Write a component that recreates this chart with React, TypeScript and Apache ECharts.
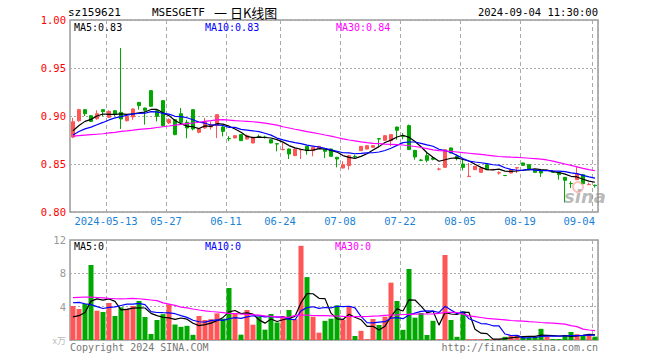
import React, { useEffect, useRef } from "react";
import * as echarts from "echarts";

// ---------- data ----------
const DATES = [
  "2024-04-30",
  "2024-05-06", "2024-05-07", "2024-05-08", "2024-05-09", "2024-05-10",
  "2024-05-13", "2024-05-14", "2024-05-15", "2024-05-16", "2024-05-17",
  "2024-05-20", "2024-05-21", "2024-05-22", "2024-05-23", "2024-05-24",
  "2024-05-27", "2024-05-28", "2024-05-29", "2024-05-30", "2024-05-31",
  "2024-06-03", "2024-06-04", "2024-06-05", "2024-06-06", "2024-06-07",
  "2024-06-11", "2024-06-12", "2024-06-13", "2024-06-14",
  "2024-06-17", "2024-06-18", "2024-06-19", "2024-06-20", "2024-06-21",
  "2024-06-24", "2024-06-25", "2024-06-26", "2024-06-27", "2024-06-28",
  "2024-07-01", "2024-07-02", "2024-07-03", "2024-07-04", "2024-07-05",
  "2024-07-08", "2024-07-09", "2024-07-10", "2024-07-11", "2024-07-12",
  "2024-07-15", "2024-07-16", "2024-07-17", "2024-07-18", "2024-07-19",
  "2024-07-22", "2024-07-23", "2024-07-24", "2024-07-25", "2024-07-26",
  "2024-07-29", "2024-07-30", "2024-07-31", "2024-08-01", "2024-08-02",
  "2024-08-05", "2024-08-06", "2024-08-07", "2024-08-08", "2024-08-09",
  "2024-08-12", "2024-08-13", "2024-08-14", "2024-08-15", "2024-08-16",
  "2024-08-19", "2024-08-20", "2024-08-21", "2024-08-22", "2024-08-23",
  "2024-08-26", "2024-08-27", "2024-08-28", "2024-08-29", "2024-08-30",
  "2024-09-02", "2024-09-03", "2024-09-04",
];

// indices of the dates that get a label and a vertical grid line
const LABEL_INDEX = [6, 16, 26, 35, 45, 55, 65, 75, 87];

const OPEN = [
  0.878, 0.895, 0.9066, 0.9003, 0.8972, 0.9066, 0.8986, 0.9055, 0.9038, 0.8951,
  0.899, 0.9142, 0.9083, 0.9264, 0.9055, 0.916, 0.8927, 0.8962, 0.9024, 0.8934,
  0.9066, 0.883, 0.8875, 0.8885, 0.89, 0.8885, 0.8766, 0.8771, 0.8806, 0.876,
  0.8719, 0.8788, 0.878, 0.8753, 0.8712, 0.8649, 0.8656, 0.8587, 0.8646, 0.8684,
  0.8639, 0.8663, 0.8649, 0.8656, 0.857, 0.8458, 0.8483, 0.858, 0.8639, 0.8656,
  0.8674, 0.8764, 0.8747, 0.8743, 0.8885, 0.8792, 0.89, 0.8642, 0.8541, 0.8587,
  0.8563, 0.8446, 0.8465, 0.8667, 0.858, 0.85, 0.8369, 0.8441, 0.8413, 0.8493,
  0.8441, 0.8406, 0.8381, 0.8406, 0.8458, 0.8511, 0.8493, 0.8434, 0.8424, 0.8431,
  0.8424, 0.8413, 0.8361, 0.8297, 0.8337, 0.8389, 0.8285, 0.8278,
];
const CLOSE = [
  0.894, 0.9066, 0.9024, 0.8944, 0.9024, 0.9045, 0.9049, 0.9024, 0.8969, 0.8997,
  0.9073, 0.9108, 0.9059, 0.9101, 0.8997, 0.89, 0.8962, 0.8806, 0.8934, 0.8875,
  0.8865, 0.8865, 0.8944, 0.891, 0.9014, 0.884, 0.8763, 0.8795, 0.8743, 0.8795,
  0.8778, 0.8785, 0.8778, 0.8719, 0.8708, 0.8652, 0.8604, 0.8656, 0.8652, 0.8639,
  0.8674, 0.8684, 0.8632, 0.858, 0.8552, 0.8493, 0.8587, 0.8577, 0.8684, 0.8691,
  0.8691, 0.876, 0.8795, 0.8806, 0.8851, 0.8788, 0.865, 0.8573, 0.8538, 0.8538,
  0.8549, 0.8448, 0.8649, 0.8615, 0.8556, 0.8465, 0.8372, 0.8476, 0.8458, 0.8441,
  0.8444, 0.8409, 0.8379, 0.8441, 0.8462, 0.8486, 0.8441, 0.8413, 0.8406, 0.8434,
  0.8413, 0.8389, 0.833, 0.8295, 0.8396, 0.8295, 0.8288, 0.8274,
];
const LOW = [
  0.877, 0.894, 0.9, 0.8938, 0.896, 0.9, 0.898, 0.9, 0.8865, 0.8944,
  0.896, 0.9066, 0.891, 0.9097, 0.8944, 0.889, 0.8917, 0.88, 0.893, 0.8768,
  0.885, 0.882, 0.8868, 0.8858, 0.877, 0.8788, 0.8737, 0.8768, 0.874, 0.8755,
  0.8715, 0.877, 0.8764, 0.8715, 0.8632, 0.8645, 0.8552, 0.8583, 0.8552, 0.8597,
  0.858, 0.866, 0.8563, 0.8576, 0.8465, 0.8455, 0.8441, 0.8563, 0.8635, 0.8652,
  0.867, 0.8684, 0.8743, 0.8684, 0.8753, 0.8757, 0.8646, 0.8545, 0.853, 0.8517,
  0.8538, 0.8434, 0.8461, 0.8611, 0.8538, 0.8434, 0.8365, 0.8437, 0.8406, 0.8437,
  0.8437, 0.8389, 0.8376, 0.8403, 0.8406, 0.8483, 0.8437, 0.841, 0.8365, 0.8427,
  0.841, 0.8337, 0.8101, 0.825, 0.8333, 0.8291, 0.8281, 0.8255,
];
const HIGH = [
  0.898, 0.9075, 0.907, 0.9008, 0.906, 0.907, 0.906, 0.906, 0.9708, 0.9003,
  0.908, 0.9146, 0.9087, 0.9268, 0.9066, 0.9165, 0.8976, 0.8966, 0.9083, 0.896,
  0.907, 0.887, 0.898, 0.8944, 0.902, 0.891, 0.879, 0.88, 0.881, 0.8806,
  0.8782, 0.8806, 0.8795, 0.8757, 0.8715, 0.8719, 0.866, 0.866, 0.8656, 0.8688,
  0.8678, 0.8688, 0.8653, 0.866, 0.8574, 0.8528, 0.8597, 0.8597, 0.8688, 0.8695,
  0.8695, 0.8768, 0.88, 0.881, 0.889, 0.8823, 0.891, 0.8646, 0.8552, 0.8615,
  0.8573, 0.8462, 0.8653, 0.8671, 0.8597, 0.8545, 0.851, 0.848, 0.8462, 0.8497,
  0.8448, 0.8424, 0.8383, 0.8445, 0.8466, 0.8515, 0.8497, 0.8438, 0.8428, 0.8445,
  0.8428, 0.8417, 0.8365, 0.832, 0.8476, 0.8393, 0.8306, 0.8285,
];
// volume, 万
const VOLUME = [
  4.08, 3.72, 4.32, 9.0, 3.52, 3.36, 4.44, 2.88, 3.92, 3.76,
  4.08, 4.68, 2.76, 0.72, 2.4, 3.1, 4.26, 1.86, 1.58, 1.7,
  0.62, 2.88, 2.4, 2.5, 3.2, 2.56, 6.24, 3.2, 0.64, 3.6,
  1.84, 2.8, 1.24, 3.12, 2.1, 2.88, 3.6, 2.5, 11.3, 7.55,
  2.8, 0.88, 2.3, 2.56, 4.15, 2.44, 4.0, 0.48, 1.1, 0.1,
  2.52, 1.8, 2.8, 6.88, 4.68, 1.22, 8.52, 2.68, 3.24, 0.6,
  2.3, 0.1, 10.2, 2.4, 0.38, 3.44, 0.1, 0.1, 0.1, 0.12,
  0.1, 0.1, 0.38, 0.6, 0.6, 0.3, 0.3, 0.4, 1.34, 0.42,
  0.12, 0.12, 0.6, 0.96, 0.7, 0.48, 0.6, 0.4,
];
// closes / volumes of the sessions just before the window (estimated from where the MA lines start)
const PRIOR_CLOSE = [0.872, 0.874, 0.876, 0.878, 0.88, 0.879, 0.881, 0.884, 0.885];
const PRIOR_VOLUME = [3.2, 6.0, 10.0, 6.0, 5.6, 3.0, 2.4, 2.2, 2.2];

// 30-day moving averages (they need a longer history)
const PRICE_MA30 = [
  0.879, 0.8795, 0.88, 0.8805, 0.881, 0.8815, 0.8825, 0.883, 0.884, 0.8845,
  0.8852, 0.886, 0.8866, 0.8872, 0.888, 0.8888, 0.8896, 0.8905, 0.8912, 0.892,
  0.8927, 0.8935, 0.8945, 0.8952, 0.896, 0.8962, 0.8958, 0.8952, 0.8948, 0.8944,
  0.894, 0.8934, 0.8925, 0.8915, 0.8905, 0.8888, 0.8875, 0.8862, 0.885, 0.8838,
  0.8826, 0.8815, 0.8802, 0.879, 0.8776, 0.8762, 0.875, 0.874, 0.873, 0.8722,
  0.8715, 0.8712, 0.8708, 0.8705, 0.8702, 0.8698, 0.869, 0.8682, 0.8672, 0.866,
  0.8648, 0.864, 0.8636, 0.8632, 0.8625, 0.8618, 0.8612, 0.8606, 0.86, 0.8592,
  0.8585, 0.8578, 0.8575, 0.8572, 0.857, 0.8565, 0.856, 0.8555, 0.855, 0.8542,
  0.853, 0.8515, 0.85, 0.8485, 0.847, 0.8455, 0.8442, 0.843,
];
const VOLUME_MA30 = [
  5.08, 5.12, 5.16, 5.14, 5.1, 5.06, 5.0, 4.95, 4.94, 4.96,
  5.0, 4.95, 4.88, 4.8, 4.72, 4.45, 4.3, 4.15, 3.95, 3.85,
  3.72, 3.6, 3.5, 3.42, 3.36, 3.28, 3.2, 3.16, 3.12, 3.08,
  3.04, 2.98, 2.9, 2.84, 2.78, 2.72, 2.72, 2.95, 3.0, 2.98,
  2.94, 2.92, 2.92, 2.9, 2.88, 2.84, 2.82, 2.8, 2.8, 2.82,
  2.86, 2.9, 2.96, 3.0, 3.02, 3.06, 3.08, 3.1, 3.12, 3.12,
  3.14, 3.2, 3.32, 3.32, 3.3, 3.1, 2.9, 2.8, 2.7, 2.6,
  2.54, 2.48, 2.42, 2.34, 2.3, 2.26, 2.2, 2.16, 2.1, 2.06,
  2.02, 1.96, 1.9, 1.72, 1.6, 1.3, 1.2, 1.12,
];

const TITLE_CODE = "sz159621";
const TITLE_NAME = "MSESGETF";
const TITLE_KIND = "一 日K线图";
const TITLE_TIME = "2024-09-04 11:30:00";
const PRICE_LEGEND = ["MA5:0.83", "MA10:0.83", "MA30:0.84"];
const VOLUME_LEGEND = ["MA5:0", "MA10:0", "MA30:0"];
const VOLUME_UNIT = "x万";
const FOOT_LEFT = "Copyright 2024 SINA.COM";
const FOOT_RIGHT = "http://finance.sina.com.cn";

// ---------- helpers ----------
function movingAverage(values: number[], prior: number[], n: number): number[] {
  const all = prior.concat(values);
  return values.map((_, i) => {
    const j = i + prior.length;
    let s = 0;
    for (let k = 0; k < n; k++) s += all[j - k];
    return +(s / n).toFixed(4);
  });
}

const RED = "#ff5555";
const GREEN = "#00a800";
const MONO = "'DejaVu Sans Mono', 'Liberation Mono', monospace";
const CJK = "'Noto Sans CJK SC', sans-serif";
const GRID_LINE = "#aaaaaa";
const BORDER = "#9a9a9a";
const DATE_BLUE = "#1a82d6";

export default function App() {
  const ref = useRef<HTMLDivElement>(null);

  useEffect(() => {
    if (!ref.current) return;
    const chart = echarts.init(ref.current, undefined, { renderer: "svg" });

    const ma5 = movingAverage(CLOSE, PRIOR_CLOSE, 5);
    const ma10 = movingAverage(CLOSE, PRIOR_CLOSE, 10);
    const vma5 = movingAverage(VOLUME, PRIOR_VOLUME, 5);
    const vma10 = movingAverage(VOLUME, PRIOR_VOLUME, 10);

    const isLabel = (i: number) => LABEL_INDEX.indexOf(i) >= 0;
    const last = DATES.length - 1;

    const splitX = {
      show: true,
      interval: (i: number) => isLabel(i),
      lineStyle: { color: GRID_LINE, type: [4, 3], width: 1 },
    };

    const line = (name: string, data: number[], color: string, xi: number) => ({
      name,
      type: "line",
      xAxisIndex: xi,
      yAxisIndex: xi,
      data,
      showSymbol: false,
      symbol: "none",
      silent: true,
      lineStyle: { color, width: 1.2 },
      z: 5,
    });

    const txt = (text: string, x: number, y: number, fill: string, font: string, align = "left") => ({
      type: "text",
      x,
      y,
      silent: true,
      z: 100,
      style: {
        text,
        fill,
        font,
        align,
        textAlign: align,
        verticalAlign: "middle",
        textVerticalAlign: "middle",
      },
    });

    const option: any = {
      animation: false,
      backgroundColor: "#ffffff",
      grid: [
        { left: 70, top: 20, width: 528, height: 192, show: true, borderColor: BORDER, borderWidth: 1.5, backgroundColor: "transparent" },
        { left: 70, top: 240, width: 528, height: 100, show: true, borderColor: BORDER, borderWidth: 1.5, backgroundColor: "transparent" },
      ],
      xAxis: [
        {
          type: "category",
          gridIndex: 0,
          data: DATES,
          boundaryGap: true,
          axisLine: { show: false },
          axisTick: { show: false },
          splitLine: splitX,
          axisLabel: {
            interval: (i: number) => isLabel(i),
            margin: 3,
            alignMaxLabel: "right",
            formatter: (v: string, i: number) =>
              i === last ? `{e|${v.slice(5)}}` : `{c|${i === LABEL_INDEX[0] ? v : v.slice(5)}}`,
            rich: {
              c: { padding: [0, 6, 0, 0], color: DATE_BLUE, fontFamily: MONO, fontSize: 10.5 },
              e: { color: DATE_BLUE, fontFamily: MONO, fontSize: 10.5 },
            },
          },
        },
        {
          type: "category",
          gridIndex: 1,
          data: DATES,
          boundaryGap: true,
          axisLine: { show: false },
          axisTick: { show: false },
          axisLabel: { show: false },
          splitLine: splitX,
        },
      ],
      yAxis: [
        {
          type: "value",
          gridIndex: 0,
          min: 0.8,
          max: 1.0,
          interval: 0.05,
          axisLine: { show: false },
          axisTick: { show: false },
          splitLine: { show: true, lineStyle: { color: GRID_LINE, type: [2, 2], width: 1 } },
          axisLabel: {
            color: "#ff0000",
            fontFamily: MONO,
            fontSize: 10.5,
            margin: 4,
            formatter: (v: number) => v.toFixed(2),
          },
        },
        {
          type: "value",
          gridIndex: 1,
          min: 0,
          max: 12,
          interval: 4,
          axisLine: { show: false },
          axisTick: { show: false },
          splitLine: { show: true, lineStyle: { color: GRID_LINE, type: [2, 2], width: 1 } },
          axisLabel: {
            color: "#999999",
            fontFamily: MONO,
            fontSize: 10.5,
            margin: 4,
            formatter: (v: number) => (v === 0 ? "" : String(v)),
          },
        },
      ],
      series: [
        {
          name: "K",
          type: "candlestick",
          xAxisIndex: 0,
          yAxisIndex: 0,
          barWidth: 4,
          data: DATES.map((_, i) => [OPEN[i], CLOSE[i], LOW[i], HIGH[i]]),
          itemStyle: {
            color: RED,
            color0: GREEN,
            borderColor: RED,
            borderColor0: GREEN,
            borderWidth: 1,
          },
          z: 3,
        },
        line("MA5", ma5, "#000000", 0),
        line("MA10", ma10, "#0000ff", 0),
        line("MA30", PRICE_MA30, "#ff00ff", 0),
        {
          name: "VOL",
          type: "bar",
          xAxisIndex: 1,
          yAxisIndex: 1,
          barWidth: 5,
          data: VOLUME.map((v, i) => ({
            value: v,
            itemStyle: { color: CLOSE[i] >= OPEN[i] ? RED : GREEN },
          })),
          z: 3,
        },
        line("VMA5", vma5, "#000000", 1),
        line("VMA10", vma10, "#0000ff", 1),
        line("VMA30", VOLUME_MA30, "#ff00ff", 1),
      ],
      graphic: [
        txt(TITLE_CODE, 68, 12, "#000000", `11px ${MONO}`),
        txt(TITLE_NAME, 152, 12, "#000000", `11px ${MONO}`),
        txt(TITLE_KIND, 214, 12, "#000000", `13px ${CJK}`),
        txt(TITLE_TIME, 598, 12, "#000000", `10.5px ${MONO}`, "right"),
        txt(PRICE_LEGEND[0], 74, 27, "#000000", `10px ${MONO}`),
        txt(PRICE_LEGEND[1], 205, 27, "#0000ff", `10px ${MONO}`),
        txt(PRICE_LEGEND[2], 336, 27, "#ff00ff", `10px ${MONO}`),
        txt(VOLUME_LEGEND[0], 74, 246, "#000000", `10px ${MONO}`),
        txt(VOLUME_LEGEND[1], 205, 246, "#0000ff", `10px ${MONO}`),
        txt(VOLUME_LEGEND[2], 335, 246, "#ff00ff", `10px ${MONO}`),
        txt(VOLUME_UNIT, 66, 340, "#bbbbbb", `9px ${CJK}`, "right"),
        txt(FOOT_LEFT, 70, 347, "#777777", `10px ${MONO}`),
        txt(FOOT_RIGHT, 598, 347, "#777777", `10px ${MONO}`, "right"),
        {
          type: "circle",
          silent: true,
          z: 90,
          shape: { cx: 578, cy: 187, r: 5 },
          style: { fill: "none", stroke: "rgba(255,140,140,0.55)", lineWidth: 2 },
        },
        txt("sina", 564, 196, "rgba(140,140,140,0.6)", `italic bold 18px 'DejaVu Sans', sans-serif`),
      ],
    };

    chart.setOption(option);
    return () => chart.dispose();
  }, []);

  return (
    <div
      ref={ref}
      style={{ position: "fixed", left: 0, top: 0, width: 660, height: 360, background: "#fff" }}
    />
  );
}
